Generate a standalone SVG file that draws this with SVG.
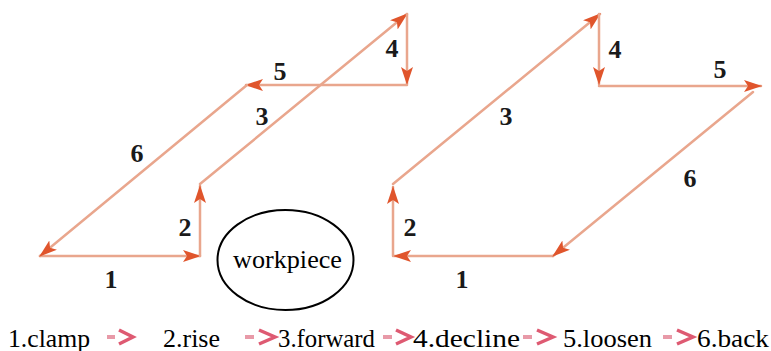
<svg xmlns="http://www.w3.org/2000/svg" width="771" height="351" viewBox="0 0 771 351">
<style>
.ln{stroke:#e9a68d;stroke-width:2.5;fill:none;stroke-linecap:round}
.lbl{font-family:"Liberation Serif","Times New Roman",Times,serif;font-weight:bold;font-size:26px;fill:#1a1a1a;text-anchor:middle}
.lg{font-family:"Liberation Serif","Times New Roman",Times,serif;font-size:25px;fill:#000}
.dash{stroke:#e89aa8;stroke-width:4;fill:none}
.chev{stroke:#de5a72;stroke-width:3.5;fill:none;stroke-linejoin:miter}
</style>
<defs>
<marker id="ah" markerWidth="18" markerHeight="12" refX="17" refY="6" orient="auto" markerUnits="userSpaceOnUse">
<path d="M0,0 L18,6 L0,12 L4,6 Z" fill="#e0552c"/>
</marker>
</defs>
<rect width="771" height="351" fill="#fff"/>
<g id="connectors">
<g id="left-path">
<line class="ln" x1="40" y1="256" x2="200" y2="256" marker-end="url(#ah)"/>
<line class="ln" x1="200" y1="256" x2="200" y2="186" marker-end="url(#ah)"/>
<line class="ln" x1="200" y1="184" x2="407" y2="14" marker-end="url(#ah)"/>
<line class="ln" x1="407" y1="14" x2="407" y2="84" marker-end="url(#ah)"/>
<line class="ln" x1="407" y1="85" x2="246" y2="85" marker-end="url(#ah)"/>
<line class="ln" x1="247" y1="85" x2="40" y2="256" marker-end="url(#ah)"/>
</g>
<g id="right-path">
<line class="ln" x1="553" y1="256" x2="394" y2="256" marker-end="url(#ah)"/>
<line class="ln" x1="393" y1="256" x2="393" y2="187" marker-end="url(#ah)"/>
<line class="ln" x1="393" y1="184" x2="600" y2="14" marker-end="url(#ah)"/>
<line class="ln" x1="599" y1="14" x2="599" y2="84" marker-end="url(#ah)"/>
<line class="ln" x1="599" y1="86" x2="761" y2="86" marker-end="url(#ah)"/>
<line class="ln" x1="753" y1="92" x2="553" y2="256" marker-end="url(#ah)"/>
</g>
</g>
<g id="left-labels">
<text class="lbl" x="111" y="288">1</text>
<text class="lbl" x="185" y="236">2</text>
<text class="lbl" x="262" y="125">3</text>
<text class="lbl" x="392" y="57">4</text>
<text class="lbl" x="280" y="80">5</text>
<text class="lbl" x="137" y="162">6</text>
</g>
<g id="right-labels">
<text class="lbl" x="462" y="288">1</text>
<text class="lbl" x="410" y="236">2</text>
<text class="lbl" x="506" y="125">3</text>
<text class="lbl" x="615" y="58">4</text>
<text class="lbl" x="720" y="78">5</text>
<text class="lbl" x="690" y="187">6</text>
</g>
<g id="workpiece">
<ellipse cx="285.5" cy="260" rx="68" ry="50" fill="none" stroke="#000" stroke-width="2"/>
<text x="287.5" y="268" font-family="'Liberation Serif','Times New Roman',Times,serif" font-size="25" text-anchor="middle" fill="#000" textLength="109" lengthAdjust="spacingAndGlyphs">workpiece</text>
</g>
<g id="legend">
<text class="lg" x="8" y="347" textLength="82" lengthAdjust="spacingAndGlyphs">1.clamp</text>
<text class="lg" x="163" y="347" textLength="57" lengthAdjust="spacingAndGlyphs">2.rise</text>
<text class="lg" x="278" y="347" textLength="97" lengthAdjust="spacingAndGlyphs">3.forward</text>
<text class="lg" x="413" y="347" textLength="107" lengthAdjust="spacingAndGlyphs">4.decline</text>
<text class="lg" x="563" y="347" textLength="89" lengthAdjust="spacingAndGlyphs">5.loosen</text>
<text class="lg" x="697" y="347" textLength="72" lengthAdjust="spacingAndGlyphs">6.back</text>
<g id="legend-arrows">
<line class="dash" x1="107" y1="337" x2="115" y2="337"/>
<polyline class="chev" points="119,330 133,337 119,344"/>
<line class="dash" x1="245" y1="337" x2="254" y2="337"/>
<polyline class="chev" points="259,330 275,337 259,344"/>
<line class="dash" x1="383" y1="337" x2="392" y2="337"/>
<polyline class="chev" points="396,330 411,337 396,344"/>
<line class="dash" x1="523" y1="337" x2="532" y2="337"/>
<polyline class="chev" points="537,330 553,337 537,344"/>
<line class="dash" x1="663" y1="337" x2="672" y2="337"/>
<polyline class="chev" points="677,330 693,337 677,344"/>
</g>
</g>
</svg>
